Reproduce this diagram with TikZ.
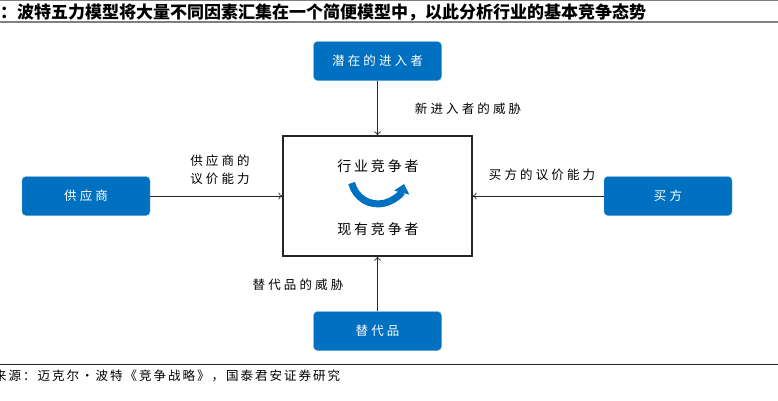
\documentclass[tikz,border=0pt]{standalone}
\usepackage{fontspec}
\setmainfont{Noto Sans CJK SC}
\usetikzlibrary{arrows.meta}
\definecolor{bleu}{HTML}{0070C0}
\tikzset{
  force/.style={draw=bleu!60!white, fill=bleu, rounded corners=4pt, text=white,
    minimum width=128pt, minimum height=39pt, inner sep=0pt,
    font=\fontsize{12.5}{14}\selectfont\addfontfeature{LetterSpace=25}},
  etiquette/.style={font=\fontsize{12.5}{18}\selectfont\addfontfeature{LetterSpace=25}, align=center, inner sep=0pt},
  fleche/.style={draw=black!85, line width=0.7pt, -{To[length=4pt,width=7pt]}}
}
\begin{document}
\begin{tikzpicture}[x=1pt, y=-1pt]
\useasboundingbox (0,0) rectangle (778,400);
% titre et source
\draw[gray, line width=0.8pt] (0,0.5) -- (778,0.5);
\draw[gray, line width=1.6pt] (0,22) -- (778,22);
\node[anchor=west, inner sep=0pt, font=\fontsize{17}{19}\selectfont\bfseries] (titre) at (0,12.5)
  {：波特五力模型将大量不同因素汇集在一个简便模型中，以此分析行业的基本竞争态势};
\draw[black!85, line width=1pt] (0,364) -- (778,364);
\node[anchor=west, inner sep=0pt, font=\fontsize{12.5}{14}\selectfont\addfontfeature{LetterSpace=16}] (source) at (-6,375.5)
  {来源：迈克尔·波特《竞争战略》，国泰君安证券研究};

% les cinq forces
\node[draw=black!85, line width=1.2pt, minimum width=189pt, minimum height=120pt] (industrie) at (377.5,196) {};
\node[force] (entrants) at (377.5,61) {潜在的进入者};
\node[force] (fournisseurs) at (86,196) {供应商};
\node[force] (acheteurs) at (668,196) {买方};
\node[force] (substituts) at (377.5,331) {替代品};

\draw[fleche] (entrants) -- (industrie);
\draw[fleche] (fournisseurs) -- (industrie);
\draw[fleche] (acheteurs) -- (industrie);
\draw[fleche] (substituts) -- (industrie);

\node[etiquette] (l-entrants) at (468,109) {新进入者的威胁};
\node[etiquette] (l-fournisseurs) at (220,170) {供应商的\\议价能力};
\node[etiquette] (l-acheteurs) at (542,175) {买方的议价能力};
\node[etiquette] (l-substituts) at (298,285) {替代品的威胁};

\node[etiquette, font=\fontsize{14}{16}\selectfont\addfontfeature{LetterSpace=20}] (haut) at (378,166) {行业竞争者};
\node[etiquette, font=\fontsize{14}{16}\selectfont\addfontfeature{LetterSpace=20}] (bas) at (378,229) {现有竞争者};
\draw[bleu, line width=7pt, -{Triangle[length=9pt,width=15pt]}] (351.7,183) arc[start angle=167, end angle=15, radius=27];
\end{tikzpicture}
\end{document}
